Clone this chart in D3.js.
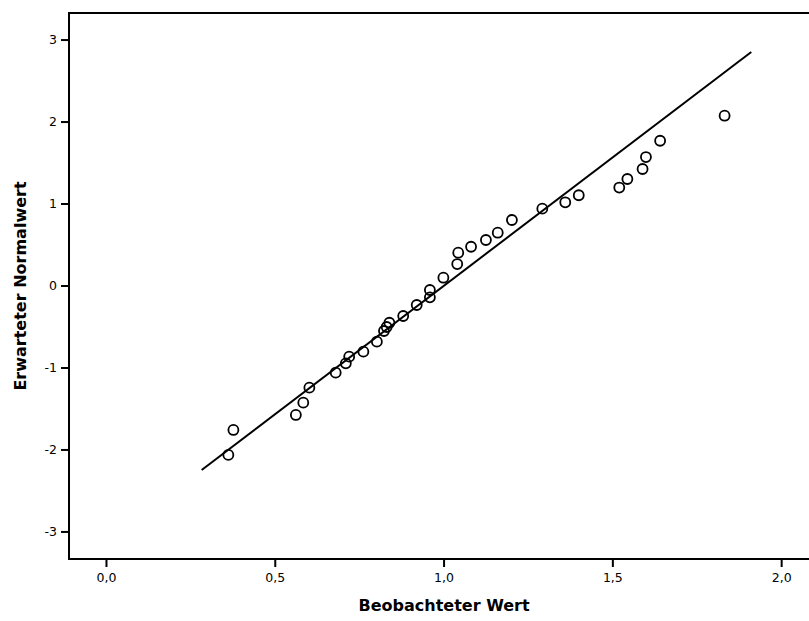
<!DOCTYPE html>
<html>
<head>
<meta charset="utf-8">
<script src="https://cdn.jsdelivr.net/npm/d3@7"></script>
<style>
  body { margin: 0; background: #fff; }
  text { font-family: "DejaVu Sans", sans-serif; fill: #000; }
</style>
</head>
<body>
<svg width="809" height="621"></svg>
<script>
// observed values (x) and expected normal values (y)
var observed = [0.361, 0.376, 0.561, 0.583, 0.601, 0.679, 0.709, 0.719, 0.761, 0.801,
                0.822, 0.830, 0.838, 0.879, 0.919, 0.958, 0.958, 0.998, 1.039, 1.042,
                1.080, 1.124, 1.159, 1.201, 1.291, 1.359, 1.399, 1.519, 1.543, 1.588,
                1.598, 1.640, 1.831];
var expected = [-2.06, -1.756, -1.573, -1.423, -1.24, -1.057, -0.943, -0.862, -0.801, -0.679,
                -0.549, -0.5, -0.448, -0.366, -0.232, -0.138, -0.049, 0.101, 0.268, 0.406,
                0.479, 0.561, 0.65, 0.805, 0.943, 1.021, 1.107, 1.201, 1.305, 1.427,
                1.573, 1.772, 2.077];

// reference line end points
var lineX = [0.282, 1.910];
var lineY = [-2.244, 2.854];

var xTicks = [0, 0.5, 1, 1.5, 2];
var yTicks = [-3, -2, -1, 0, 1, 2, 3];

var svg = d3.select("svg");
var plotLeft = 69, plotTop = 13, plotRight = 809, plotBottom = 559;

var x = d3.scaleLinear().domain([-0.111, 2.081]).range([plotLeft, plotRight]);
var y = d3.scaleLinear().domain([-3.33, 3.33]).range([plotBottom, plotTop]);

var fmt = function(d) { return d3.format(".1f")(d).replace(".", ","); };

// frame (no right edge visible)
svg.append("path")
    .attr("d", "M" + plotRight + "," + plotTop + "H" + plotLeft + "V" + plotBottom + "H" + plotRight)
    .attr("fill", "none")
    .attr("stroke", "#000")
    .attr("stroke-width", 2);

// x ticks
var xAxis = svg.append("g").attr("transform", "translate(0," + plotBottom + ")");
xAxis.selectAll("line").data(xTicks).enter().append("line")
    .attr("x1", d => x(d)).attr("x2", d => x(d))
    .attr("y1", 0).attr("y2", 8)
    .attr("stroke", "#000").attr("stroke-width", 2);
xAxis.selectAll("text").data(xTicks).enter().append("text")
    .attr("x", d => x(d)).attr("y", 23)
    .attr("text-anchor", "middle")
    .attr("font-size", 12.5)
    .text(fmt);

// y ticks
var yAxis = svg.append("g").attr("transform", "translate(" + plotLeft + ",0)");
yAxis.selectAll("line").data(yTicks).enter().append("line")
    .attr("x1", -8).attr("x2", 0)
    .attr("y1", d => y(d)).attr("y2", d => y(d))
    .attr("stroke", "#000").attr("stroke-width", 2);
yAxis.selectAll("text").data(yTicks).enter().append("text")
    .attr("x", -12).attr("y", d => y(d))
    .attr("dy", "0.35em")
    .attr("text-anchor", "end")
    .attr("font-size", 12.5)
    .text(d => d);

// axis titles
svg.append("text")
    .attr("x", (x(0) + x(2)) / 2).attr("y", 611)
    .attr("text-anchor", "middle")
    .attr("font-size", 16).attr("font-weight", "bold")
    .text("Beobachteter Wert");

svg.append("text")
    .attr("transform", "translate(26," + y(0) + ") rotate(-90)")
    .attr("text-anchor", "middle")
    .attr("font-size", 16).attr("font-weight", "bold")
    .text("Erwarteter Normalwert");

// reference line
var line = d3.line().x(d => x(d[0])).y(d => y(d[1]));
svg.append("path")
    .datum(d3.zip(lineX, lineY))
    .attr("d", line)
    .attr("fill", "none")
    .attr("stroke", "#000")
    .attr("stroke-width", 2);

// points
svg.append("g").selectAll("circle")
    .data(d3.zip(observed, expected))
    .enter().append("circle")
    .attr("cx", d => x(d[0]))
    .attr("cy", d => y(d[1]))
    .attr("r", 5)
    .attr("fill", "none")
    .attr("stroke", "#000")
    .attr("stroke-width", 1.8);
</script>
</body>
</html>
